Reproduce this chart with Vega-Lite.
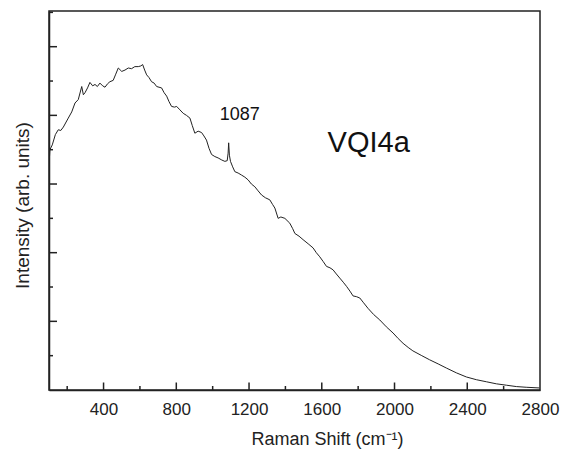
{
  "$schema": "https://vega.github.io/schema/vega-lite/v6.json",
  "width": 491,
  "height": 379,
  "autosize": {"type": "none"},
  "padding": {"left": 49, "top": 11, "right": 25, "bottom": 66},
  "background": "white",
  "config": {
    "view": {"stroke": "#222", "strokeWidth": 1.5},
    "font": "Liberation Sans"
  },
  "datasets": {
    "spec": [
      {"shift": 100, "intensity": 3.28},
      {"shift": 105, "intensity": 3.5},
      {"shift": 118, "intensity": 3.57},
      {"shift": 135, "intensity": 3.72},
      {"shift": 151, "intensity": 3.79},
      {"shift": 165, "intensity": 3.78},
      {"shift": 179, "intensity": 3.83},
      {"shift": 206, "intensity": 3.96},
      {"shift": 225, "intensity": 4.05},
      {"shift": 243, "intensity": 4.18},
      {"shift": 261, "intensity": 4.23},
      {"shift": 280, "intensity": 4.42},
      {"shift": 289, "intensity": 4.3},
      {"shift": 298, "intensity": 4.33},
      {"shift": 312, "intensity": 4.4},
      {"shift": 325, "intensity": 4.48},
      {"shift": 340, "intensity": 4.43},
      {"shift": 353, "intensity": 4.45},
      {"shift": 366, "intensity": 4.42},
      {"shift": 380, "intensity": 4.47},
      {"shift": 395, "intensity": 4.43},
      {"shift": 408, "intensity": 4.41},
      {"shift": 422, "intensity": 4.46},
      {"shift": 435, "intensity": 4.49},
      {"shift": 453, "intensity": 4.51},
      {"shift": 467, "intensity": 4.6},
      {"shift": 481, "intensity": 4.69},
      {"shift": 500, "intensity": 4.64},
      {"shift": 518, "intensity": 4.66},
      {"shift": 536, "intensity": 4.69},
      {"shift": 554, "intensity": 4.68},
      {"shift": 572, "intensity": 4.71},
      {"shift": 591, "intensity": 4.71},
      {"shift": 605, "intensity": 4.72},
      {"shift": 615, "intensity": 4.74},
      {"shift": 626, "intensity": 4.66},
      {"shift": 637, "intensity": 4.59},
      {"shift": 650, "intensity": 4.55},
      {"shift": 664, "intensity": 4.49},
      {"shift": 678, "intensity": 4.47},
      {"shift": 692, "intensity": 4.42},
      {"shift": 705, "intensity": 4.41},
      {"shift": 719, "intensity": 4.4},
      {"shift": 733, "intensity": 4.33},
      {"shift": 747, "intensity": 4.28},
      {"shift": 760, "intensity": 4.2},
      {"shift": 774, "intensity": 4.13},
      {"shift": 790, "intensity": 4.12},
      {"shift": 802, "intensity": 4.13},
      {"shift": 820, "intensity": 4.08},
      {"shift": 838, "intensity": 4.03},
      {"shift": 856, "intensity": 4.0},
      {"shift": 875, "intensity": 3.96},
      {"shift": 888, "intensity": 3.85},
      {"shift": 902, "intensity": 3.74},
      {"shift": 920, "intensity": 3.77},
      {"shift": 939, "intensity": 3.75},
      {"shift": 952, "intensity": 3.7},
      {"shift": 966, "intensity": 3.64},
      {"shift": 980, "intensity": 3.52},
      {"shift": 994, "intensity": 3.43},
      {"shift": 1012, "intensity": 3.4},
      {"shift": 1030, "intensity": 3.38},
      {"shift": 1050, "intensity": 3.35},
      {"shift": 1067, "intensity": 3.33},
      {"shift": 1080, "intensity": 3.34},
      {"shift": 1085, "intensity": 3.45},
      {"shift": 1088, "intensity": 3.6},
      {"shift": 1092, "intensity": 3.42},
      {"shift": 1098, "intensity": 3.33},
      {"shift": 1110, "intensity": 3.25},
      {"shift": 1122, "intensity": 3.18},
      {"shift": 1140, "intensity": 3.16},
      {"shift": 1159, "intensity": 3.13},
      {"shift": 1177, "intensity": 3.1},
      {"shift": 1195, "intensity": 3.06},
      {"shift": 1213, "intensity": 3.0},
      {"shift": 1232, "intensity": 2.96},
      {"shift": 1250, "intensity": 2.9},
      {"shift": 1269, "intensity": 2.84},
      {"shift": 1290, "intensity": 2.8},
      {"shift": 1314, "intensity": 2.77},
      {"shift": 1330, "intensity": 2.7},
      {"shift": 1342, "intensity": 2.65},
      {"shift": 1360, "intensity": 2.5},
      {"shift": 1375, "intensity": 2.52},
      {"shift": 1397, "intensity": 2.5},
      {"shift": 1424, "intensity": 2.43},
      {"shift": 1440, "intensity": 2.35},
      {"shift": 1452, "intensity": 2.28},
      {"shift": 1475, "intensity": 2.24},
      {"shift": 1497, "intensity": 2.19},
      {"shift": 1525, "intensity": 2.13},
      {"shift": 1552, "intensity": 2.07},
      {"shift": 1570, "intensity": 2.0},
      {"shift": 1589, "intensity": 1.94},
      {"shift": 1608, "intensity": 1.87},
      {"shift": 1626, "intensity": 1.8},
      {"shift": 1645, "intensity": 1.78},
      {"shift": 1662, "intensity": 1.75},
      {"shift": 1680, "intensity": 1.69},
      {"shift": 1699, "intensity": 1.63},
      {"shift": 1718, "intensity": 1.57},
      {"shift": 1736, "intensity": 1.51},
      {"shift": 1755, "intensity": 1.44},
      {"shift": 1772, "intensity": 1.37},
      {"shift": 1790, "intensity": 1.36},
      {"shift": 1809, "intensity": 1.34},
      {"shift": 1830, "intensity": 1.27},
      {"shift": 1854, "intensity": 1.19},
      {"shift": 1885, "intensity": 1.1},
      {"shift": 1919, "intensity": 1.02},
      {"shift": 1955, "intensity": 0.92},
      {"shift": 1992, "intensity": 0.83},
      {"shift": 2020, "intensity": 0.75},
      {"shift": 2047, "intensity": 0.68},
      {"shift": 2075, "intensity": 0.62},
      {"shift": 2101, "intensity": 0.57},
      {"shift": 2150, "intensity": 0.5},
      {"shift": 2193, "intensity": 0.44},
      {"shift": 2240, "intensity": 0.38},
      {"shift": 2285, "intensity": 0.32},
      {"shift": 2340, "intensity": 0.25},
      {"shift": 2395, "intensity": 0.19},
      {"shift": 2450, "intensity": 0.15},
      {"shift": 2505, "intensity": 0.12},
      {"shift": 2560, "intensity": 0.09},
      {"shift": 2615, "intensity": 0.07},
      {"shift": 2670, "intensity": 0.05},
      {"shift": 2724, "intensity": 0.04},
      {"shift": 2797, "intensity": 0.03}
    ],
    "labels": [
      {"shift": 1149, "intensity": 4.0, "text": "1087", "kind": "peak"},
      {"shift": 1858, "intensity": 3.6, "text": "VQI4a", "kind": "sample"}
    ],
    "ticksX": [
      {"shift": 200, "intensity": 0, "kind": "minor"},
      {"shift": 400, "intensity": 0, "kind": "major"},
      {"shift": 600, "intensity": 0, "kind": "minor"},
      {"shift": 800, "intensity": 0, "kind": "major"},
      {"shift": 1000, "intensity": 0, "kind": "minor"},
      {"shift": 1200, "intensity": 0, "kind": "major"},
      {"shift": 1400, "intensity": 0, "kind": "minor"},
      {"shift": 1600, "intensity": 0, "kind": "major"},
      {"shift": 1800, "intensity": 0, "kind": "minor"},
      {"shift": 2000, "intensity": 0, "kind": "major"},
      {"shift": 2200, "intensity": 0, "kind": "minor"},
      {"shift": 2400, "intensity": 0, "kind": "major"},
      {"shift": 2600, "intensity": 0, "kind": "minor"}
    ],
    "ticksY": [
      {"shift": 100, "intensity": 0.5, "kind": "minor"},
      {"shift": 100, "intensity": 1, "kind": "major"},
      {"shift": 100, "intensity": 1.5, "kind": "minor"},
      {"shift": 100, "intensity": 2, "kind": "major"},
      {"shift": 100, "intensity": 2.5, "kind": "minor"},
      {"shift": 100, "intensity": 3, "kind": "major"},
      {"shift": 100, "intensity": 3.5, "kind": "minor"},
      {"shift": 100, "intensity": 4, "kind": "major"},
      {"shift": 100, "intensity": 4.5, "kind": "minor"},
      {"shift": 100, "intensity": 5, "kind": "major"},
      {"shift": 100, "intensity": 5.5, "kind": "minor"}
    ]
  },
  "resolve": {"scale": {"size": "independent"}},
  "layer": [
    {
      "data": {"name": "spec"},
      "mark": {"type": "line", "color": "#222", "strokeWidth": 1, "clip": true},
      "encoding": {
        "x": {
          "field": "shift",
          "type": "quantitative",
          "scale": {"domain": [100, 2800], "nice": false, "zero": false},
          "axis": {
            "orient": "bottom",
            "title": "Raman Shift (cm⁻¹)",
            "titleFontSize": 18,
            "titleFontWeight": "normal",
            "titleColor": "#222",
            "titlePadding": 13,
            "titleX": 278,
            "titleAlign": "center",
            "values": [400, 800, 1200, 1600, 2000, 2400, 2800],
            "format": "d",
            "labelFontSize": 17,
            "labelColor": "#222",
            "labelPadding": 11,
            "labelFlush": false,
            "labelOverlap": false,
            "ticks": false,
            "domainColor": "#222",
            "domainWidth": 1.5,
            "grid": false
          }
        },
        "y": {
          "field": "intensity",
          "type": "quantitative",
          "scale": {"domain": [0, 5.52], "nice": false},
          "axis": {
            "orient": "left",
            "title": "Intensity (arb. units)",
            "titleFontSize": 19,
            "titleFontWeight": "normal",
            "titleColor": "#222",
            "titlePadding": 17,
            "titleY": 194,
            "labels": false,
            "ticks": false,
            "domainColor": "#222",
            "domainWidth": 1.5,
            "grid": false
          }
        }
      }
    },
    {
      "data": {"name": "ticksX"},
      "mark": {"type": "tick", "orient": "vertical", "color": "#222", "thickness": 1.5, "opacity": 1, "clip": true},
      "encoding": {
        "x": {"field": "shift", "type": "quantitative"},
        "y": {"field": "intensity", "type": "quantitative"},
        "size": {
          "field": "kind",
          "type": "nominal",
          "scale": {"domain": ["major", "minor"], "range": [15, 8]},
          "legend": null
        }
      }
    },
    {
      "data": {"name": "ticksY"},
      "mark": {"type": "tick", "orient": "horizontal", "color": "#222", "thickness": 1.5, "opacity": 1, "clip": true},
      "encoding": {
        "x": {"field": "shift", "type": "quantitative"},
        "y": {"field": "intensity", "type": "quantitative"},
        "size": {
          "field": "kind",
          "type": "nominal",
          "scale": {"domain": ["major", "minor"], "range": [16, 8]},
          "legend": null
        }
      }
    },
    {
      "data": {"name": "labels"},
      "mark": {"type": "text", "font": "Liberation Sans", "color": "#111", "align": "center", "baseline": "middle"},
      "encoding": {
        "x": {"field": "shift", "type": "quantitative"},
        "y": {"field": "intensity", "type": "quantitative"},
        "text": {"field": "text"},
        "size": {
          "field": "kind",
          "type": "nominal",
          "scale": {"domain": ["peak", "sample"], "range": [18, 29]},
          "legend": null
        }
      }
    }
  ]
}
